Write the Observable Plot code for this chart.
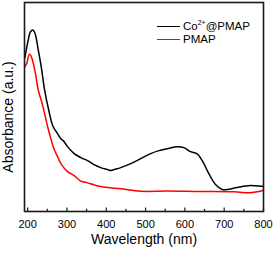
<!DOCTYPE html>
<html><head><meta charset="utf-8">
<script src="https://cdn.jsdelivr.net/npm/d3@7"></script>
<script src="https://cdn.jsdelivr.net/npm/@observablehq/plot@0.6"></script>
<style>
body{margin:0;background:#fff;}
#wrap{position:relative;width:274px;height:255px;font-family:"Liberation Sans",Arial,sans-serif;}
.legrow{position:absolute;left:157px;height:14px;display:flex;align-items:center;font-size:11.5px;color:#000;white-space:nowrap;}
.legline{width:23px;height:0;border-top:1.6px solid;margin-right:3px;}
.legrow sup{font-size:7px;vertical-align:5px;line-height:0;}
</style></head><body><div id="wrap"></div>
<script>
const seriesNames = ["Co2+@PMAP", "PMAP"];
const seriesColors = ["#000000", "#ff0000"];
const wavelengthCo = [193,201,207,213.5,218.5,227.4,235,242.6,254,263.8,274.4,284.5,292.9,301.5,318.3,335.3,352.3,369,386,403,411.4,419.8,436.8,462.2,487.6,513,534,555.4,580.8,597.5,614.5,630.5,644.2,660.9,677.9,694.9,707.6,733,766.8,800];
const absCo = [1.54,1.71,1.80,1.82,1.79,1.61,1.44,1.23,1.01,0.86,0.79,0.73,0.70,0.65,0.58,0.54,0.51,0.47,0.44,0.42,0.41,0.42,0.44,0.48,0.53,0.58,0.61,0.63,0.65,0.64,0.60,0.58,0.51,0.38,0.27,0.22,0.22,0.24,0.26,0.25];
const wavelengthPmap = [193,198.2,204.1,208.4,218.5,227.4,235,242.6,251.5,259.1,266.8,276.1,284.5,301.5,318.3,335.3,352.3,369,386,403,436.8,487.6,555.4,640,724.4,766.8,779.5,792.2,800];
const absPmap = [1.45,1.49,1.575,1.56,1.41,1.21,1.11,0.99,0.84,0.73,0.63,0.55,0.48,0.40,0.36,0.305,0.287,0.267,0.25,0.24,0.227,0.203,0.205,0.20,0.197,0.187,0.195,0.203,0.215];
const majorTicks = [200,300,400,500,600,700,800];
const minorTicks = [250,350,450,550,650,750];
const xTitle = "Wavelength (nm)";
const yTitle = "Absorbance (a.u.)";

const co = wavelengthCo.map((w,i)=>({w, a: absCo[i]}));
const pm = wavelengthPmap.map((w,i)=>({w, a: absPmap[i]}));
const plotH = 255 - 2 - 44;

const chart = Plot.plot({
  width: 274, height: 255,
  marginLeft: 24, marginRight: 11, marginTop: 2, marginBottom: 44,
  x: {domain: [192, 800], axis: null},
  y: {domain: [0, 2.095], axis: null},
  style: {fontFamily: '"Liberation Sans", Arial, sans-serif', color: "#000", background: "#fff"},
  marks: [
    Plot.line(pm, {x: "w", y: "a", stroke: seriesColors[1], strokeWidth: 1.5, curve: "catmull-rom"}),
    Plot.line(co, {x: "w", y: "a", stroke: seriesColors[0], strokeWidth: 1.5, curve: "catmull-rom"}),
    Plot.ruleX(majorTicks, {x: d => d, insetTop: plotH - 3.5, stroke: "#1a1a1a", strokeWidth: 1.2}),
    Plot.ruleX(minorTicks, {x: d => d, insetTop: plotH - 2.2, stroke: "#1a1a1a", strokeWidth: 1.2}),
    Plot.text(majorTicks, {x: d => d, text: d => String(d), frameAnchor: "bottom", lineAnchor: "top", dy: 9, fontSize: 11}),
    Plot.frame({stroke: "#1a1a1a", strokeWidth: 1.6}),
    Plot.text([xTitle], {text: d => d, frameAnchor: "bottom", lineAnchor: "middle", dy: 28, fontSize: 14}),
    Plot.text([yTitle], {text: d => d, frameAnchor: "left", textAnchor: "middle", rotate: -90, dx: -16, dy: 10, fontSize: 14})
  ]
});
const wrap = document.getElementById("wrap");
wrap.appendChild(chart);
const tops = [19, 32];
seriesNames.forEach((name, i) => {
  const row = document.createElement("div");
  row.className = "legrow";
  row.style.top = tops[i] + "px";
  const line = document.createElement("div");
  line.className = "legline";
  line.style.borderColor = seriesColors[i];
  row.appendChild(line);
  const span = document.createElement("span");
  const m = name.match(/^Co(\d\+)(.*)$/);
  if (m) { span.innerHTML = "Co<sup>" + m[1] + "</sup>" + m[2]; } else { span.textContent = name; }
  row.appendChild(span);
  wrap.appendChild(row);
});
</script></body></html>
